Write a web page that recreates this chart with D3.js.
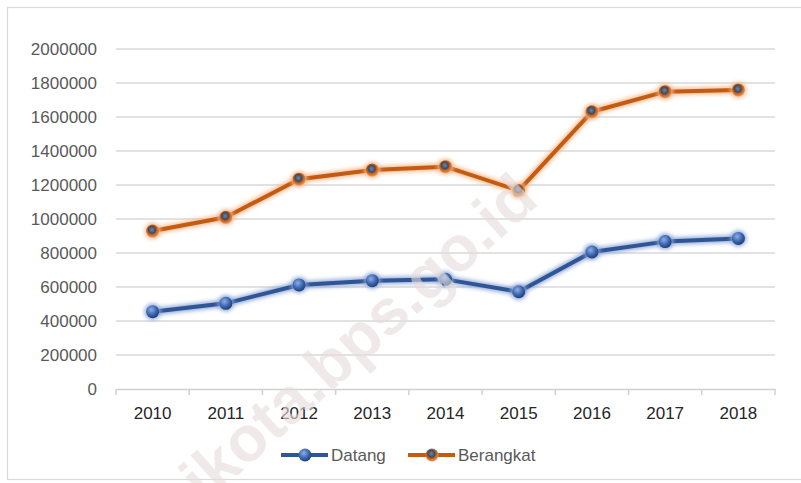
<!DOCTYPE html>
<html>
<head>
<meta charset="utf-8">
<script src="https://cdn.jsdelivr.net/npm/d3@7"></script>
<style>
  body { margin: 0; background: #fff; }
  svg { display: block; }
  text { font-family: "Liberation Sans", "DejaVu Sans", sans-serif; }
</style>
</head>
<body>
<svg width="801" height="483"></svg>
<script>
// data
var years = ["2010", "2011", "2012", "2013", "2014", "2015", "2016", "2017", "2018"];
var datang = [455000, 504000, 612000, 637000, 645000, 572000, 806000, 867000, 886000];
var berangkat = [929000, 1010000, 1234000, 1288000, 1308000, 1167000, 1631000, 1749000, 1759000];
var yTicks = [0, 200000, 400000, 600000, 800000, 1000000, 1200000, 1400000, 1600000, 1800000, 2000000];
var seriesNames = ["Datang", "Berangkat"];

var svg = d3.select("svg");

var x = d3.scaleBand().domain(years).range([116, 775]);
var y = d3.scaleLinear().domain([0, 2000000]).range([389, 49]);

var series = [
  { name: seriesNames[0], values: datang, color: "#2f5597", glow: "#8fa7d6" },
  { name: seriesNames[1], values: berangkat, color: "#c55a11", glow: "#f2b98c" }
];

// gradients and glow
var defs = svg.append("defs");
var gb = defs.append("radialGradient").attr("id", "mBlue").attr("cx", "40%").attr("cy", "35%").attr("r", "65%");
gb.append("stop").attr("offset", "0%").attr("stop-color", "#8eaee6");
gb.append("stop").attr("offset", "60%").attr("stop-color", "#3d66b0");
gb.append("stop").attr("offset", "100%").attr("stop-color", "#203f78");
var go = defs.append("radialGradient").attr("id", "mOrange").attr("cx", "45%").attr("cy", "40%").attr("r", "60%");
go.append("stop").attr("offset", "0%").attr("stop-color", "#6f86a8");
go.append("stop").attr("offset", "45%").attr("stop-color", "#3b4a62");
go.append("stop").attr("offset", "60%").attr("stop-color", "#c55a11");
go.append("stop").attr("offset", "100%").attr("stop-color", "#e39a66");
var f = defs.append("filter").attr("id", "glow").attr("x", "-20%").attr("y", "-20%").attr("width", "140%").attr("height", "140%");
f.append("feGaussianBlur").attr("in", "SourceGraphic").attr("stdDeviation", 2.2);

// frame
svg.append("rect")
  .attr("x", 7.5).attr("y", 7.5)
  .attr("width", 810).attr("height", 472)
  .attr("fill", "none").attr("stroke", "#d9d9d9").attr("stroke-width", 1.2);

// gridlines
svg.append("g")
  .selectAll("line")
  .data(yTicks.slice(1))
  .enter()
  .append("line")
  .attr("x1", 116).attr("x2", 775)
  .attr("y1", function(d) { return y(d); })
  .attr("y2", function(d) { return y(d); })
  .attr("stroke", "#d9d9d9")
  .attr("stroke-width", 1.5);

// y axis labels
var yAxis = svg.append("g")
  .attr("transform", "translate(116,0)")
  .call(d3.axisLeft(y).tickValues(yTicks).tickSize(0).tickPadding(19).tickFormat(d3.format("d")));
yAxis.select(".domain").remove();
yAxis.selectAll("text")
  .attr("fill", "#595959")
  .style("font-size", "17px")
  .attr("dy", "0.35em");

// x axis
var xAxis = svg.append("g")
  .attr("transform", "translate(0,389)")
  .call(d3.axisBottom(x).tickSize(0).tickPadding(18));
xAxis.select(".domain").attr("stroke", "#d0d0d0").attr("stroke-width", 1.5);
xAxis.selectAll("text")
  .attr("fill", "#262626")
  .style("font-size", "17px");
xAxis.selectAll(".bound")
  .data(d3.range(years.length + 1))
  .enter()
  .append("line")
  .attr("class", "bound")
  .attr("x1", function(i) { return 116 + i * x.bandwidth(); })
  .attr("x2", function(i) { return 116 + i * x.bandwidth(); })
  .attr("y1", 0).attr("y2", 6)
  .attr("stroke", "#d0d0d0").attr("stroke-width", 1.5);

// lines
var line = d3.line()
  .x(function(d, i) { return x(years[i]) + x.bandwidth() / 2; })
  .y(function(d) { return y(d); });

series.forEach(function(s, k) {
  var g = svg.append("g");
  g.append("path")
    .attr("d", line(s.values))
    .attr("fill", "none")
    .attr("stroke", s.glow)
    .attr("stroke-width", 7)
    .attr("stroke-linejoin", "round")
    .attr("filter", "url(#glow)");
  g.append("path")
    .attr("d", line(s.values))
    .attr("fill", "none")
    .attr("stroke", s.color)
    .attr("stroke-width", 4)
    .attr("stroke-linejoin", "round");
  g.selectAll("circle.glow")
    .data(s.values)
    .enter()
    .append("circle")
    .attr("cx", function(d, i) { return x(years[i]) + x.bandwidth() / 2; })
    .attr("cy", function(d) { return y(d); })
    .attr("r", 8)
    .attr("fill", s.glow)
    .attr("filter", "url(#glow)");
  g.selectAll("circle.node")
    .data(s.values)
    .enter()
    .append("circle")
    .attr("cx", function(d, i) { return x(years[i]) + x.bandwidth() / 2; })
    .attr("cy", function(d) { return y(d); })
    .attr("r", 6.5)
    .attr("fill", k == 0 ? "url(#mBlue)" : "url(#mOrange)");
});

// legend
var legendX = [281, 408];
series.forEach(function(s, k) {
  var lg = svg.append("g").attr("transform", "translate(" + legendX[k] + ",455)");
  lg.append("line").attr("x1", 0).attr("x2", 47).attr("y1", 0).attr("y2", 0)
    .attr("stroke", s.glow).attr("stroke-width", 7).attr("filter", "url(#glow)");
  lg.append("line").attr("x1", 0).attr("x2", 47).attr("y1", 0).attr("y2", 0)
    .attr("stroke", s.color).attr("stroke-width", 4);
  lg.append("circle").attr("cx", 24).attr("cy", 0).attr("r", 6.5)
    .attr("fill", k == 0 ? "url(#mBlue)" : "url(#mOrange)");
  lg.append("text").attr("x", 50).attr("y", 6)
    .attr("fill", "#595959")
    .style("font-size", "17px")
    .text(s.name);
});

// watermark
svg.append("text")
  .attr("transform", "translate(205,505) rotate(-42)")
  .attr("fill", "#e6dcdc")
  .attr("opacity", 0.6)
  .style("font-size", "64px")
  .style("font-weight", "bold")
  .text("ikota.bps.go.id");
</script>
</body>
</html>
